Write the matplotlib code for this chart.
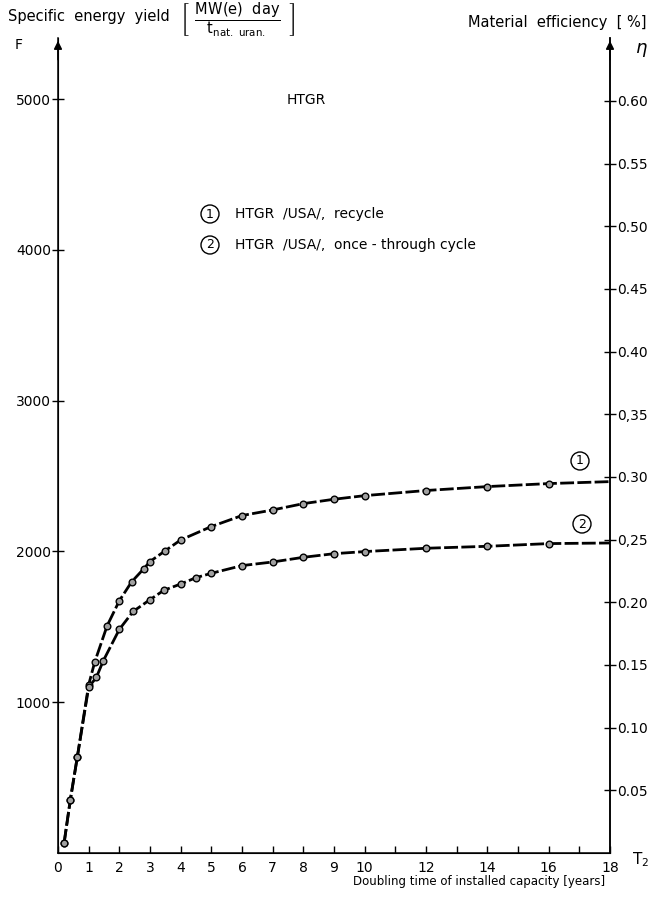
import matplotlib
matplotlib.use("Agg")
import matplotlib.pyplot as plt
import numpy as np

#Data: doubling time T2 [years] vs specific energy yield F
t_recycle = [0.2, 0.4, 0.63, 1.0, 1.2, 1.6, 2.0, 2.4, 2.8, 3.0, 3.5, 4.0, 5.0, 6.0, 7.0, 8.0, 9.0, 10.0, 12.0, 14.0, 16.0, 18.0]
F_recycle = [68, 350, 637, 1116, 1268, 1506, 1673, 1798, 1886, 1933, 2005, 2076, 2165, 2238, 2275, 2317, 2346, 2370, 2404, 2430, 2450, 2463]

t_once = [0.2, 0.4, 0.63, 1.0, 1.25, 1.47, 2.0, 2.45, 3.0, 3.45, 4.0, 4.5, 5.0, 6.0, 7.0, 8.0, 9.0, 10.0, 12.0, 14.0, 16.0, 18.0]
F_once = [68, 350, 637, 1100, 1164, 1272, 1483, 1602, 1680, 1742, 1784, 1826, 1855, 1906, 1930, 1961, 1985, 1999, 2021, 2034, 2052, 2056]

x_ticks = [0, 1, 2, 3, 4, 5, 6, 7, 8, 9, 10, 11, 12, 13, 14, 15, 16, 17, 18]
x_labels = ['0', '1', '2', '3', '4', '5', '6', '7', '8', '9', '10', '', '12', '', '14', '', '16', '', '18']
F_ticks = [1000, 2000, 3000, 4000, 5000]
eta_ticks = [0.05, 0.10, 0.15, 0.20, 0.25, 0.30, 0.35, 0.40, 0.45, 0.50, 0.55, 0.60]
eta_labels = ['0.05', '0.10', '0.15', '0.20', '0,25', '0.30', '0,35', '0.40', '0.45', '0.50', '0.55', '0.60']

plt.rcParams['font.family'] = ['DejaVu Sans']
plt.rcParams['mathtext.fontset'] = 'dejavusans'

W, H = 653, 900
fig = plt.figure(figsize=(W / 100, H / 100), dpi=100)
left, right, bottom, top = 58, 610, 853, 38
ax = fig.add_axes([left / W, 1 - bottom / H, (right - left) / W, (bottom - top) / H])

F_top = 5405
eta_per_F = 0.0001203
ax.set_xlim(0, 18)
ax.set_ylim(0, F_top)

#curves: heavy dashed line with grey circle markers
for t, F in [(t_recycle, F_recycle), (t_once, F_once)]:
    ax.plot(t, F, color='black', lw=2.0, dashes=(5, 1.2), solid_capstyle='butt', zorder=2)
    ax.plot(t[:-1], F[:-1], 'o', ms=4.8, mfc='#a0a0a0', mec='black', mew=1.0, zorder=3)

#spines
ax.spines['top'].set_visible(False)
for s in ['left', 'right', 'bottom']:
    ax.spines[s].set_linewidth(1.1)

ax.set_xticks(x_ticks)
ax.set_xticklabels(x_labels, fontsize=10)
ax.tick_params(axis='x', direction='in', length=5, width=1, pad=6)
ax.set_yticks(F_ticks)
ax.set_yticklabels([str(v) for v in F_ticks], fontsize=10)
ax.tick_params(axis='y', direction='inout', length=8, width=1, pad=1)

ax2 = ax.twinx()
ax2.set_ylim(0, F_top * eta_per_F)
ax2.spines['top'].set_visible(False)
ax2.spines['right'].set_linewidth(1.1)
ax2.set_yticks(eta_ticks)
ax2.set_yticklabels(eta_labels, fontsize=10)
ax2.tick_params(axis='y', direction='inout', length=8, width=1, pad=1)

#arrow heads at top of both vertical axes
for xa in [0, 1]:
    ax.annotate('', xy=(xa, 1.0), xytext=(xa, 0.97), xycoords='axes fraction',
                arrowprops=dict(arrowstyle='-|>', color='black', lw=1.1, mutation_scale=12))

#texts in figure pixel coords
def ftext(x, y, s, **kw):
    fig.text(x / W, 1 - y / H, s, **kw)

ftext(8, 16, 'Specific  energy  yield', fontsize=10.5, va='center')
ftext(180, 20, r'$\left[\ \frac{\mathrm{MW(e)\ \ day}}{\mathrm{t_{nat.\ uran.}}}\ \right]$', fontsize=15, va='center')
ftext(15, 45, 'F', fontsize=10, va='center')
ftext(646, 22, 'Material  efficiency  [ %]', fontsize=10.5, va='center', ha='right')
ftext(635, 50, r'$\eta$', fontsize=13, va='center')
ftext(287, 100, 'HTGR', fontsize=10, va='center')

circ = dict(boxstyle='circle,pad=0.2', fc='white', ec='black', lw=1)
ftext(210, 214, '1', fontsize=9, va='center', ha='center', bbox=circ)
ftext(235, 214, 'HTGR  /USA/,  recycle', fontsize=10, va='center')
ftext(210, 245, '2', fontsize=9, va='center', ha='center', bbox=circ)
ftext(235, 245, 'HTGR  /USA/,  once - through cycle', fontsize=10, va='center')

ftext(580, 461, '1', fontsize=9, va='center', ha='center', bbox=circ)
ftext(582, 524, '2', fontsize=9, va='center', ha='center', bbox=circ)

ftext(632, 860, r'T$_2$', fontsize=11, va='center')
ftext(605, 882, 'Doubling time of installed capacity [years]', fontsize=8.5, va='center', ha='right')

plt.savefig('out.png', dpi=100)
